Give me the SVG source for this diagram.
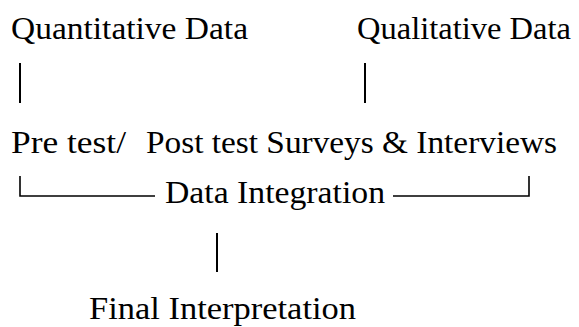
<svg xmlns="http://www.w3.org/2000/svg" width="579" height="327" viewBox="0 0 579 327">
  <style>
    .t { font-family: "Liberation Serif", "Times New Roman", serif; font-size: 31px; fill: #000; }
    .c { stroke: #000; fill: none; }
    .bar { stroke-width: 2; }
    .lin { stroke-width: 1.6; }
  </style>
  <rect width="579" height="327" fill="#fff"/>
  <g id="connectors">
    <line class="c bar" x1="20" y1="63" x2="20" y2="103"/>
    <line class="c bar" x1="365" y1="63" x2="365" y2="103"/>
    <path class="c lin" d="M20,176 V196 H155"/>
    <path class="c lin" d="M393,196 H529 V176"/>
    <line class="c bar" x1="217" y1="233" x2="217" y2="272"/>
  </g>
  <g id="quantitative">
    <text class="t" x="11" y="39" textLength="237" lengthAdjust="spacingAndGlyphs">Quantitative Data</text>
  </g>
  <g id="qualitative">
    <text class="t" x="357" y="39" textLength="214" lengthAdjust="spacingAndGlyphs">Qualitative Data</text>
  </g>
  <g id="methods">
    <text class="t" y="153"><tspan x="11" textLength="115" lengthAdjust="spacingAndGlyphs">Pre test/</tspan><tspan x="146" textLength="411" lengthAdjust="spacingAndGlyphs">Post test Surveys &amp; Interviews</tspan></text>
  </g>
  <g id="integration">
    <text class="t" x="165" y="203" textLength="220" lengthAdjust="spacingAndGlyphs">Data Integration</text>
  </g>
  <g id="interpretation">
    <text class="t" x="89" y="319" textLength="267" lengthAdjust="spacingAndGlyphs">Final Interpretation</text>
  </g>
</svg>
